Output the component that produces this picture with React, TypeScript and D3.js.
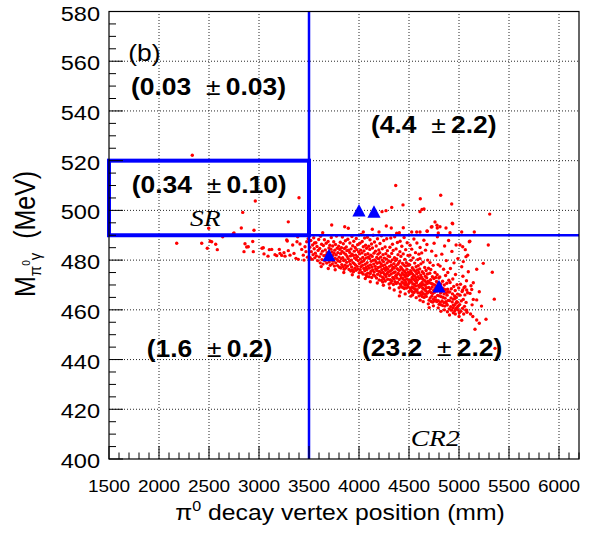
import React from 'react';
import * as d3 from 'd3';

// pi0 gamma invariant mass vs pi0 decay vertex (ROOT style scatter)
const W = 596;
const H = 533;
const SX = 1.15; // glyphs in the figure are a bit wider than tall

const xTicks = [1500, 2000, 2500, 3000, 3500, 4000, 4500, 5000, 5500, 6000];
const yTicks = [400, 420, 440, 460, 480, 500, 520, 540, 560, 580];

// cut values
const zCut = 3500;
const mLow = 490;
const mHigh = 520;

// observed events (blue triangles)
const observed: [number, number][] = [
  [3700, 482], [4000, 500], [4150, 499.5], [4800, 469.5],
];

// expected background per region
const yields = [
  { val: '(0.03', err: '0.03)', x: 1720, y: 546.4 },
  { val: '(4.4', err: '2.2)', x: 4120, y: 531.1 },
  { val: '(0.34', err: '0.10)', x: 1727, y: 507 },
  { val: '(1.6', err: '0.2)', x: 1877, y: 441 },
  { val: '(23.2', err: '2.2)', x: 4030, y: 441.4 },
];

// MC events, left and sparse parts
const mcSparse: [number, number][] = [
  [2177,486.8],[2333,522.2],[2427,486.8],[2483,484.8],[2497,492.8],[2513,487.6],[2527,487.4],[2567,486.4],
  [2583,484.2],[2637,489.4],[2743,490.6],[2750,490.9],[2823,492.9],[2837,499.2],[2850,483.4],[2860,486.6],
  [2877,485.3],[2893,485.4],[2937,487.5],[2943,483.4],[2950,492.0],[2963,503.8],[3030,484.8],[3043,485.0],
  [3050,482.5],[3090,481.6],[3103,484.2],[3127,484.3],[3160,482.2],[3177,481.8],[3203,484.3],[3210,482.7],
  [3227,481.9],[3250,483.0],[3260,481.6],[3277,488.1],[3283,487.7],[3293,483.8],[3293,495.4],[3310,482.0],
  [3337,486.1],[3350,482.7],[3370,480.7],[3380,487.4],[3387,489.4],[3393,480.3],[3400,505.1],[3410,486.5],
  [3427,484.3],[3443,482.0],[3450,480.0],[3460,485.4],[3470,483.4],[3477,487.4],[3485,481.2],[3492,488.6],
  [3500,490.5],[3637,491.0],[3727,494.1],[3857,493.4],[3893,492.8],[4043,491.3],[4133,492.4],[4200,491.3],
  [4230,499.5],[4270,499.9],[4273,493.7],[4323,492.9],[4327,501.2],[4367,510.0],[4377,490.8],[4403,491.0],
  [4440,502.2],[4443,493.0],[4527,491.3],[4577,491.3],[4610,499.5],[4610,491.3],[4613,504.7],[4630,500.4],
  [4650,500.6],[4680,491.7],[4683,491.6],[4723,493.3],[4730,493.4],[4760,495.3],[4780,494.0],[4783,492.9],
  [4793,490.9],[4810,493.4],[4817,506.1],[4870,492.9],[4910,491.0],[4927,502.6],[4933,494.8],[4937,494.6],
  [5027,491.3],[5153,491.3],[5307,498.5],
  [5103,487.4],[5127,468.2],[5143,464.2],[5160,452.2],[5177,455.9],[5177,476.3],[5177,464.0],[5203,467.3],
  [5203,454.6],[5243,478.7],[5270,456.2],[5293,486.1],[5333,475.1],[5353,464.3],[5360,444.5],[5225,461.5],
  [5087,482.0],[5070,481.4],[5077,459.9],[5027,455.8],[5037,485.4],[5010,486.1],[5043,479.4],[5060,469.3],
  [5037,468.0],[5077,468.0],[4977,463.3],[4943,461.9],[4960,464.6],[4987,461.3],[4970,460.6],[4993,459.9],
  [4943,458.8],[4920,459.9],
  // ragged lower edge of the band
  [3622,477.4],[3693,476.6],[3762,476.1],[3848,475.0],[3933,474.1],[3994,473.2],[4063,472.6],[4113,471.3],
  [4183,470.8],[4244,469.9],[4306,468.8],[4352,468.0],[4413,467.2],[4462,466.4],[4518,465.5],[4572,464.9],
  [4642,463.3],[4693,462.4],[4744,461.6],[4792,460.8],[4853,460.0],[4884,459.2],[4963,458.3],[5001,457.3],
  [4404,465.6],[4611,463.9],[4702,460.9],[4819,459.4],[4905,457.9],[4237,471.2],[4536,466.0],[4077,473.4],
];

// MC events, dense band right of the z cut
const mcBand: [number, number][] = [
  [3508,485.2],[3512,481.0],[3518,487.9],[3523,483.4],[3530,480.3],[3536,486.1],[3541,482.2],[3547,489.0],
  [3552,484.6],[3558,480.9],[3563,482.8],[3569,487.0],[3574,481.7],[3580,485.5],[3586,479.8],[3591,483.9],
  [3597,488.3],[3555,486.9],
  [3603,481.3],[3607,484.7],[3612,478.9],[3616,489.6],[3621,482.5],[3626,486.4],[3630,480.2],[3635,483.6],
  [3640,478.4],[3644,485.9],[3649,481.8],[3654,488.2],[3658,479.7],[3663,484.1],[3668,482.0],[3672,486.8],
  [3677,478.8],[3682,483.0],[3686,480.6],[3691,487.5],[3695,481.4],[3699,484.9],
  [3702,479.2],[3705,482.7],[3709,486.0],[3712,477.9],[3716,481.1],[3719,484.4],[3723,489.1],[3726,480.0],
  [3730,483.3],[3733,478.5],[3737,485.7],[3740,481.9],[3744,479.6],[3747,487.4],[3751,482.8],[3754,477.6],
  [3758,484.0],[3761,480.7],[3765,486.3],[3768,478.9],[3772,482.1],[3775,489.7],[3779,480.3],[3782,484.8],
  [3786,477.8],[3789,483.0],[3793,479.7],[3797,485.6],
  [3801,481.2],[3804,477.1],[3807,484.3],[3810,479.4],[3813,487.2],[3816,482.6],[3819,476.8],[3822,480.5],
  [3825,485.0],[3828,478.2],[3831,483.5],[3834,489.3],[3837,481.0],[3840,477.4],[3843,486.6],[3846,479.8],
  [3849,482.9],[3852,476.3],[3855,484.7],[3858,480.1],[3861,478.0],[3864,487.8],[3867,482.3],[3870,476.9],
  [3873,485.3],[3876,479.1],[3879,483.8],[3882,481.5],[3885,477.6],[3888,488.4],[3892,480.6],[3896,484.0],
  [3901,476.2],[3904,479.5],[3907,483.1],[3909,486.9],[3912,478.3],[3915,481.7],[3918,475.6],[3920,484.5],
  [3923,480.0],[3926,477.2],[3929,489.5],[3931,482.4],[3934,476.0],[3937,485.8],[3940,479.0],[3942,481.9],
  [3945,475.3],[3948,487.6],[3951,478.6],[3953,483.6],[3956,480.8],[3959,476.7],[3962,485.1],[3964,478.1],
  [3967,482.0],[3970,475.9],[3973,488.7],[3975,480.3],[3978,484.2],[3981,477.5],[3984,481.4],[3986,486.2],
  [3989,476.4],[3992,479.7],[3996,483.3],
  [4002,474.9],[4004,478.6],[4007,482.5],[4009,486.8],[4012,476.1],[4014,480.4],[4017,484.0],[4020,477.3],
  [4022,490.3],[4025,479.2],[4027,475.0],[4030,482.9],[4032,487.5],[4035,477.9],[4038,481.1],[4040,474.4],
  [4043,485.4],[4045,479.6],[4048,476.6],[4050,483.7],[4053,480.2],[4056,488.9],[4058,475.7],[4061,478.3],
  [4063,482.2],[4066,486.0],[4068,474.1],[4071,477.0],[4074,480.9],[4076,484.8],[4079,476.2],[4081,479.0],
  [4084,489.2],[4087,474.7],[4089,482.6],[4092,477.7],[4095,481.3],[4098,485.6],
  [4101,473.3],[4103,476.8],[4106,480.6],[4108,484.3],[4110,488.2],[4113,474.6],[4115,478.1],[4118,482.0],
  [4120,475.5],[4122,479.5],[4125,486.5],[4127,473.0],[4130,477.2],[4132,481.5],[4135,484.9],[4137,476.0],
  [4140,479.9],[4142,490.0],[4145,474.0],[4147,478.4],[4150,482.8],[4152,475.2],[4155,487.3],[4157,480.1],
  [4160,473.6],[4162,477.5],[4165,483.6],[4167,476.4],[4170,479.3],[4172,485.7],[4175,472.8],[4177,481.1],
  [4180,475.8],[4182,478.7],[4185,488.6],[4187,474.3],[4190,482.4],[4192,477.0],[4195,480.5],[4198,484.1],
  [4201,472.0],[4203,475.4],[4205,479.1],[4208,483.0],[4210,486.7],[4212,473.7],[4214,477.3],[4217,481.2],
  [4219,474.9],[4221,478.5],[4224,489.8],[4226,471.8],[4228,476.1],[4231,480.0],[4233,484.6],[4235,473.1],
  [4238,477.8],[4240,482.2],[4242,475.0],[4245,479.4],[4247,487.9],[4249,472.5],[4252,476.6],[4254,480.8],
  [4256,474.2],[4259,478.1],[4261,485.3],[4263,471.6],[4266,475.9],[4268,482.6],[4270,473.4],[4273,477.0],
  [4275,480.4],[4277,488.6],[4280,474.6],[4282,478.9],[4284,483.8],[4287,472.3],[4289,476.4],[4291,481.7],
  [4294,475.2],[4297,479.7],
  [4301,470.4],[4303,473.8],[4305,477.5],[4307,481.4],[4309,485.2],[4311,472.1],[4314,475.6],[4316,479.3],
  [4318,488.9],[4320,470.9],[4322,474.4],[4324,478.0],[4327,482.7],[4329,471.7],[4331,476.2],[4333,480.1],
  [4335,486.4],[4338,473.0],[4340,477.1],[4342,483.9],[4344,470.2],[4346,474.9],[4349,478.6],[4351,472.5],
  [4353,476.8],[4355,481.0],[4357,489.4],[4360,471.3],[4362,475.2],[4364,479.8],[4366,473.6],[4368,477.7],
  [4371,484.5],[4373,470.6],[4375,474.0],[4377,480.5],[4379,472.8],[4382,476.5],[4384,487.1],[4386,471.0],
  [4388,478.3],[4390,482.2],[4393,474.6],[4395,476.0],[4398,479.0],
  [4401,468.9],[4403,472.2],[4405,475.9],[4407,479.6],[4409,483.4],[4411,487.6],[4413,470.3],[4415,473.9],
  [4417,477.2],[4419,481.5],[4421,469.5],[4424,472.9],[4426,476.6],[4428,485.6],[4430,471.2],[4432,474.8],
  [4434,478.7],[4436,469.0],[4438,472.6],[4440,476.0],[4442,482.5],[4444,470.7],[4446,474.1],[4448,478.0],
  [4451,489.1],[4453,468.6],[4455,471.9],[4457,475.4],[4459,480.3],[4461,469.9],[4463,473.4],[4465,477.6],
  [4467,484.2],[4469,471.0],[4471,474.6],[4473,479.0],[4475,468.8],[4477,472.4],[4479,476.3],[4482,487.0],
  [4484,470.1],[4486,473.7],[4488,477.9],[4490,481.9],[4492,469.3],[4494,475.1],[4496,478.4],[4498,471.8],
  [4501,467.4],[4503,470.8],[4505,474.3],[4507,478.1],[4509,482.0],[4511,486.0],[4513,468.6],[4515,472.0],
  [4517,475.7],[4519,479.9],[4521,467.9],[4523,471.4],[4525,474.9],[4527,484.4],[4529,469.2],[4531,473.0],
  [4533,476.9],[4535,467.2],[4537,470.5],[4539,474.2],[4541,480.9],[4543,468.9],[4545,472.3],[4547,476.1],
  [4549,488.5],[4551,467.0],[4553,470.2],[4555,473.6],[4557,478.8],[4559,468.3],[4561,471.7],[4563,475.5],
  [4565,483.0],[4567,469.6],[4569,472.9],[4571,477.3],[4573,467.6],[4575,470.9],[4577,474.5],[4579,486.9],
  [4581,468.1],[4583,471.9],[4585,476.0],[4587,480.2],[4589,466.9],[4591,473.3],[4593,477.8],[4595,469.8],
  [4597,475.0],[4599,482.4],
  [4601,465.6],[4603,469.1],[4605,472.6],[4607,476.4],[4609,480.6],[4611,485.1],[4613,466.8],[4615,470.4],
  [4617,474.0],[4619,478.5],[4621,465.9],[4623,469.6],[4625,473.1],[4627,482.9],[4629,467.3],[4631,471.0],
  [4633,475.3],[4635,465.3],[4637,468.7],[4639,472.3],[4641,479.2],[4643,466.5],[4645,470.1],[4647,474.6],
  [4649,488.0],[4651,465.0],[4653,468.3],[4655,471.8],[4657,477.0],[4659,466.2],[4661,469.9],[4663,473.5],
  [4665,484.0],[4667,467.7],[4669,471.2],[4671,475.8],[4673,465.4],[4675,468.9],[4677,472.9],[4679,486.3],
  [4681,466.7],[4683,470.6],[4685,474.4],[4687,480.0],[4690,467.1],[4692,471.5],[4695,476.7],[4698,469.0],
  [4701,463.9],[4703,467.4],[4705,470.9],[4708,474.7],[4710,479.0],[4712,464.8],[4714,468.4],[4716,472.1],
  [4718,476.2],[4721,463.4],[4723,466.9],[4725,470.6],[4727,483.6],[4729,465.5],[4732,469.2],[4734,473.3],
  [4736,463.1],[4738,466.6],[4740,470.3],[4742,477.9],[4745,464.3],[4747,467.9],[4749,472.6],[4751,486.8],
  [4753,463.6],[4756,467.1],[4758,470.0],[4760,475.0],[4762,465.1],[4764,468.6],[4767,473.0],[4769,481.8],
  [4771,464.0],[4773,469.4],[4775,471.4],[4778,463.3],[4780,467.6],[4782,474.1],[4784,489.4],[4786,465.8],
  [4789,470.8],[4791,478.2],[4793,463.7],[4795,468.0],[4798,472.8],
  [4801,462.2],[4803,465.6],[4806,469.2],[4808,473.2],[4811,477.6],[4813,463.0],[4816,466.8],[4818,470.4],
  [4821,462.0],[4823,465.3],[4826,468.8],[4828,482.4],[4831,463.6],[4833,467.5],[4836,471.5],[4838,461.7],
  [4841,465.0],[4843,468.5],[4846,476.3],[4848,462.9],[4851,466.4],[4853,470.0],[4856,485.7],[4858,461.5],
  [4861,464.7],[4863,468.1],[4866,473.8],[4868,463.3],[4871,466.9],[4873,479.8],[4876,462.5],[4878,470.7],
  [4881,465.9],[4883,461.9],[4886,468.3],[4888,475.0],[4891,463.8],[4893,467.2],[4896,487.9],[4898,471.9],
  [4902,460.4],[4905,463.7],[4908,467.2],[4911,471.0],[4914,476.6],[4917,461.3],[4920,464.8],[4923,468.5],
  [4926,460.0],[4929,483.5],[4932,463.2],[4935,466.4],[4938,472.4],[4941,460.8],[4944,464.3],[4947,469.4],
  [4950,478.9],[4953,461.8],[4956,465.6],[4959,459.7],[4962,467.8],[4965,474.2],[4968,462.6],[4971,486.1],
  [4974,465.0],[4977,460.3],[4980,470.1],[4983,463.1],[4986,466.3],[4989,480.6],[4993,461.6],[4997,468.8],
  [5003,458.8],[5007,462.1],[5011,465.9],[5015,470.3],[5019,459.4],[5023,463.6],[5027,477.3],[5031,467.4],
  [5035,460.6],[5039,473.5],[5043,464.2],[5047,458.3],[5051,469.0],[5055,461.4],[5059,466.0],[5063,484.2],
  [5067,459.9],[5071,463.0],[5075,471.7],[5080,459.0],[5086,466.9],[5093,475.3],
  [5108,487.6],[5110,466.6],[5115,458.3],[5120,469.7],[5131,462.0],[5138,457.3],[5143,470.9],
];

const events = [...mcSparse, ...mcBand];

const sans = '"Liberation Sans", Arial, Helvetica, sans-serif';
const serif = '"Liberation Serif", "Times New Roman", serif';

function StretchText(props: { x: number; y: number; size: number; anchor?: string; weight?: string; family?: string; italic?: boolean; children: React.ReactNode }) {
  const { x, y, size, anchor = 'start', weight = 'normal', family = sans, italic = false } = props;
  return (
    <text
      transform={`translate(${x},${y}) scale(${SX},1)`}
      fontFamily={family}
      fontSize={size}
      fontWeight={weight}
      fontStyle={italic ? 'italic' : 'normal'}
      textAnchor={anchor}
      fill="#000"
    >
      {props.children}
    </text>
  );
}

export default function App() {
  const x = d3.scaleLinear().domain([1500, 6200]).range([109, 579]);
  const y = d3.scaleLinear().domain([400, 580]).range([459, 11.5]);

  const xMinor = d3.range(1500, 6201, 100).filter(v => v % 500 !== 0);
  const yMinor = d3.range(400, 581, 5).filter(v => v % 20 !== 0);

  const tri = 'M0,-6.5L6.6,6.2L-6.6,6.2Z';

  return (
    <svg width={W} height={H} style={{ position: 'absolute', left: 0, top: 0, background: '#fff' }}>
      <rect x={0} y={0} width={W} height={H} fill="#fff" />

      {/* dotted grid */}
      <g stroke="#000" strokeWidth={1} strokeDasharray="1,2" opacity={0.85}>
        {xTicks.filter(t => t > 1500).map(t => (
          <line key={'gx' + t} x1={x(t)} x2={x(t)} y1={y(400)} y2={y(580)} />
        ))}
        {yTicks.filter(t => t > 400 && t < 580).map(t => (
          <line key={'gy' + t} x1={x(1500)} x2={x(6200)} y1={y(t)} y2={y(t)} />
        ))}
      </g>

      {/* MC events */}
      <g fill="#ff0000">
        {events.map((d, i) => (
          <circle key={i} cx={x(d[0])} cy={y(d[1])} r={1.7} />
        ))}
      </g>

      {/* region cuts */}
      <g stroke="#0000ff" fill="none">
        <line x1={x(zCut)} x2={x(zCut)} y1={y(400)} y2={y(580)} strokeWidth={2.5} />
        <line x1={x(zCut)} x2={x(6200)} y1={y(mLow)} y2={y(mLow)} strokeWidth={2.5} />
        <rect x={x(1500)} y={y(mHigh)} width={x(zCut) - x(1500)} height={y(mLow) - y(mHigh)} strokeWidth={4} />
      </g>

      {/* data events */}
      <g fill="#0000ff">
        {observed.map((d, i) => (
          <path key={i} d={tri} transform={`translate(${x(d[0])},${y(d[1])})`} />
        ))}
      </g>

      {/* region yields */}
      {yields.map((d, i) => (
        <StretchText key={i} x={x(d.x)} y={y(d.y)} size={23}>
          <tspan fontWeight="bold">{d.val}</tspan>
          <tspan>{'\u00a0\u00a0±\u2009'}</tspan>
          <tspan fontWeight="bold">{d.err}</tspan>
        </StretchText>
      ))}
      <StretchText x={x(1693)} y={y(560.1)} size={23}>(b)</StretchText>
      <StretchText x={x(2310)} y={y(493.6)} size={24} family={serif} italic>SR</StretchText>
      <StretchText x={x(4517)} y={y(405.2)} size={24} family={serif} italic>CR2</StretchText>

      {/* frame */}
      <rect x={x(1500)} y={y(580)} width={x(6200) - x(1500)} height={y(400) - y(580)} fill="none" stroke="#000" strokeWidth={1.2} />

      {/* axis ticks */}
      <g stroke="#000" strokeWidth={1}>
        {xTicks.map(t => (
          <line key={'xt' + t} x1={x(t)} x2={x(t)} y1={y(400)} y2={y(400) - 13} />
        ))}
        {xMinor.map(t => (
          <line key={'xm' + t} x1={x(t)} x2={x(t)} y1={y(400)} y2={y(400) - 6.5} />
        ))}
        {yTicks.map(t => (
          <line key={'yt' + t} x1={x(1500)} x2={x(1500) + 14} y1={y(t)} y2={y(t)} />
        ))}
        {yMinor.map(t => (
          <line key={'ym' + t} x1={x(1500)} x2={x(1500) + 7} y1={y(t)} y2={y(t)} />
        ))}
      </g>

      {/* tick labels */}
      {xTicks.map(t => (
        <StretchText key={'xl' + t} x={x(t)} y={492} size={16.5} anchor="middle">{t}</StretchText>
      ))}
      {yTicks.map(t => (
        <StretchText key={'yl' + t} x={100} y={y(t) + 9} size={20.5} anchor="end">{t}</StretchText>
      ))}

      {/* axis titles */}
      <StretchText x={340} y={520} size={21.5} anchor="middle">
        π<tspan fontSize={14} dy={-9}>0</tspan><tspan dy={9}> decay vertex position (mm)</tspan>
      </StretchText>
      <text
        transform={`translate(35,297) scale(${SX},1) rotate(-90)`}
        fontFamily={sans}
        fontSize={25}
        fill="#000"
      >
        M
        <tspan fontSize={15} dy={5}>π</tspan>
        <tspan fontSize={10} dy={-9}>0</tspan>
        <tspan fontSize={15} dy={9}>γ</tspan>
        <tspan dy={-5}>{'\u00a0\u00a0(MeV)'}</tspan>
      </text>
    </svg>
  );
}
